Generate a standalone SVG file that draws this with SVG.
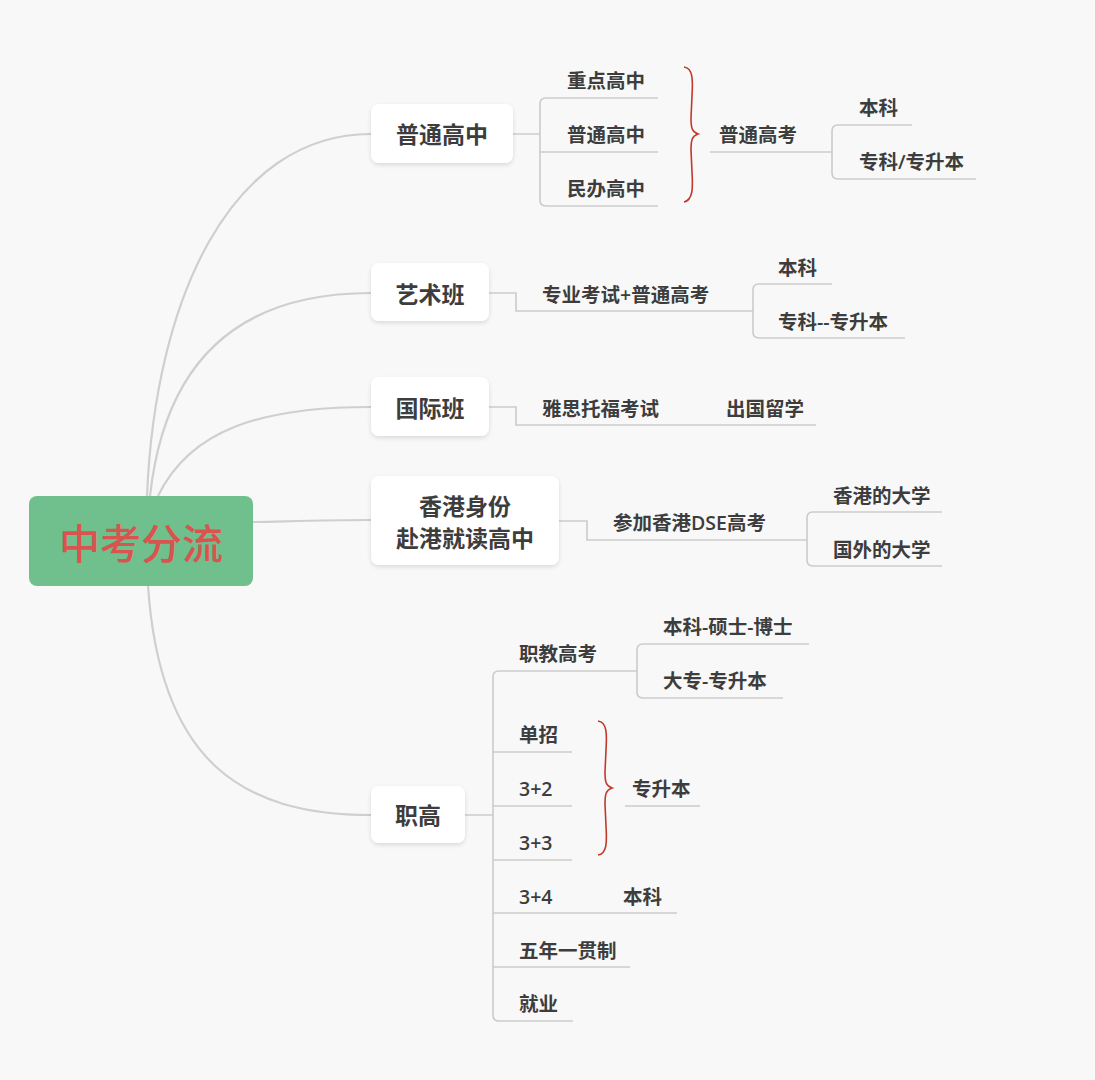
<svg xmlns="http://www.w3.org/2000/svg" width="1095" height="1080" viewBox="0 0 1095 1080">
<defs>
<style>
.t{font-family:"Open Sans","Noto Sans CJK SC",sans-serif;fill:#3d3d3d;font-weight:600;dominant-baseline:central}
.s{font-size:19.5px}
.m{font-size:23px;text-anchor:middle}
.main{fill:none;stroke:#cfcfcf;stroke-width:2.2}
.br{fill:none;stroke:#cbcbcb;stroke-width:1.6}
.brace{fill:none;stroke:#c0392b;stroke-width:1.6}
.box{fill:#ffffff}
</style>
<filter id="sh" x="-20%" y="-20%" width="140%" height="150%">
<feDropShadow dx="0" dy="2" stdDeviation="2" flood-color="#000" flood-opacity="0.12"/>
</filter>
</defs>
<rect width="1095" height="1080" fill="#f8f8f8"/>
<g id="connectors">
<path class="main" d="M147,496 C155,300 230,134 371,134"/>
<path class="main" d="M150,496 C165,360 240,293 371,293"/>
<path class="main" d="M158,496 C190,430 260,407 371,407"/>
<path class="main" d="M253,522 C300,521 330,520 371,520"/>
<path class="main" d="M148,586 C160,760 240,815 371,815"/>
<path class="br" d="M513,134 H540 M658,98 H546 Q540,98 540,104 V200 Q540,206 546,206 H658 M540,152 H658"/>
<path class="br" d="M710,152 H832 M912,125 H838 Q832,125 832,131 V173 Q832,179 838,179 H976"/>
<path class="br" d="M489,293 H516 V311 H753 M832,284 H759 Q753,284 753,290 V332 Q753,338 759,338 H905"/>
<path class="br" d="M489,407 H516 V425 H816"/>
<path class="br" d="M559,521 H587 V540 H807 M942,512 H813 Q807,512 807,518 V560 Q807,566 813,566 H942"/>
<path class="br" d="M465,815 H493 M637,671 H499 Q493,671 493,677 V1015 Q493,1021 499,1021 H573 M493,752 H572 M493,806 H572 M493,860 H572 M493,913 H677 M493,967 H630"/>
<path class="br" d="M809,644 H643 Q637,644 637,650 V692 Q637,698 643,698 H783"/>
<path class="br" d="M625,806 H700"/>
<path class="brace" d="M684,67 C693,68 693,80 692,96 L691,118 C691,128 692,132 698,134 C692,136 691,140 691,150 L692,172 C693,188 693,200 684,202"/>
<path class="brace" d="M598,721 C607,722 607,734 606,750 L605,772 C605,782 606,786 612,788 C606,790 605,794 605,804 L606,826 C607,842 607,854 598,855"/>
</g>
<g id="root">
<rect x="29" y="496" width="224" height="90" rx="8" fill="#6fc08c"/>
<text x="141" y="543" font-family="'Open Sans','Noto Sans CJK SC',sans-serif" font-size="41" font-weight="500" fill="#d9534f" text-anchor="middle" dominant-baseline="central">中考分流</text>
</g>
<g id="n-putong"><rect class="box" x="371" y="104" width="142" height="59" rx="8" filter="url(#sh)"/><text class="t m" x="442" y="134">普通高中</text></g>
<g id="n-yishu"><rect class="box" x="371" y="263" width="118" height="58" rx="8" filter="url(#sh)"/><text class="t m" x="430" y="294">艺术班</text></g>
<g id="n-guoji"><rect class="box" x="371" y="377" width="118" height="59" rx="8" filter="url(#sh)"/><text class="t m" x="430" y="408">国际班</text></g>
<g id="n-hk"><rect class="box" x="371" y="476" width="188" height="89" rx="8" filter="url(#sh)"/><text class="t m" x="465" y="506">香港身份</text><text class="t m" x="465" y="538">赴港就读高中</text></g>
<g id="n-zhigao"><rect class="box" x="371" y="786" width="94" height="57" rx="8" filter="url(#sh)"/><text class="t m" x="418" y="815">职高</text></g>
<g id="c-zhongdian"><text class="t s" x="567" y="80">重点高中</text></g>
<g id="c-putong"><text class="t s" x="567" y="134">普通高中</text></g>
<g id="c-minban"><text class="t s" x="567" y="188">民办高中</text></g>
<g id="c-gaokao"><text class="t s" x="719" y="134">普通高考</text></g>
<g id="c-benke1"><text class="t s" x="859" y="107">本科</text></g>
<g id="c-zhuanke1"><text class="t s" x="859" y="161">专科/专升本</text></g>
<g id="c-zhuanye"><text class="t s" x="542" y="294">专业考试+普通高考</text></g>
<g id="c-benke2"><text class="t s" x="778" y="267">本科</text></g>
<g id="c-zhuanke2"><text class="t s" x="778" y="321">专科--专升本</text></g>
<g id="c-yasi"><text class="t s" x="542" y="408">雅思托福考试</text></g>
<g id="c-chuguo"><text class="t s" x="726" y="408">出国留学</text></g>
<g id="c-dse"><text class="t s" x="613" y="522">参加香港DSE高考</text></g>
<g id="c-hku"><text class="t s" x="833" y="495">香港的大学</text></g>
<g id="c-foreign"><text class="t s" x="833" y="549">国外的大学</text></g>
<g id="c-zhijiao"><text class="t s" x="519" y="653">职教高考</text></g>
<g id="c-bsb"><text class="t s" x="663" y="626">本科-硕士-博士</text></g>
<g id="c-dazhuan"><text class="t s" x="663" y="680">大专-专升本</text></g>
<g id="c-danzhao"><text class="t s" x="519" y="734">单招</text></g>
<g id="c-32"><text class="t s" x="519" y="788">3+2</text></g>
<g id="c-33"><text class="t s" x="519" y="842">3+3</text></g>
<g id="c-zsb"><text class="t s" x="632" y="788">专升本</text></g>
<g id="c-34"><text class="t s" x="519" y="896">3+4</text></g>
<g id="c-benke3"><text class="t s" x="623" y="896">本科</text></g>
<g id="c-wunian"><text class="t s" x="519" y="950">五年一贯制</text></g>
<g id="c-jiuye"><text class="t s" x="519" y="1003">就业</text></g>
</svg>
